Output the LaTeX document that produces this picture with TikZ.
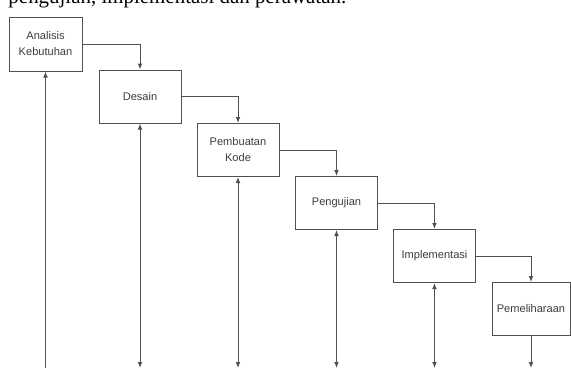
\documentclass[tikz,border=0pt]{standalone}
\usepackage{fontspec}
\setmainfont{Liberation Serif}
\newfontfamily\boxfont{Liberation Sans}
\usetikzlibrary{arrows.meta}
\definecolor{linegrey}{RGB}{80,80,80}
\definecolor{textgrey}{RGB}{60,60,60}

\begin{document}
\begin{tikzpicture}[x=0.75pt,y=-0.75pt,>={Latex[length=4.5pt,width=3.6pt]},
  line width=0.75pt,color=linegrey,
  box node/.style={rectangle,draw=linegrey,fill=white,text=textgrey,
  font=\boxfont\fontsize{8.3}{12}\selectfont,align=center,inner sep=1pt,
  minimum width=61.5pt,minimum height=39.75pt}]

  \clip (0,0) rectangle (571,369);

  % last line of the caption above, cut off by the page
  \node[anchor=base west,inner sep=0,text=black,
    font=\fontsize{15.7}{18}\selectfont] (cap) at (8,3.5)
    {pengujian, implementasi dan perawatan.};

  \node[box node,minimum width=54.75pt,minimum height=40.5pt] (AK)
    at (45.5,44) {Analisis\\Kebutuhan};
  \node[box node] (DS) at (140,96.5) {Desain};
  \node[box node] (PK) at (238,150) {Pembuatan\\Kode};
  \node[box node] (PG) at (336.5,203) {Pengujian};
  \node[box node] (IM) at (434.5,256) {Implementasi};
  \node[box node,minimum width=58.5pt] (PL) at (531,309) {Pemeliharaan};

  \coordinate (bottom) at (0,368);

  \draw[->] (AK) -| (DS);
  \draw[->] (DS) -| (PK);
  \draw[->] (PK) -| (PG);
  \draw[->] (PG) -| (IM);
  \draw[->] (IM) -| (PL);

  % feedback lines running off the bottom of the page
  \draw[<-]  (AK) -- (AK |- bottom);
  \draw[<->] (DS) -- (DS |- bottom);
  \draw[<->] (PK) -- (PK |- bottom);
  \draw[<->] (PG) -- (PG |- bottom);
  \draw[<->] (IM) -- (IM |- bottom);
  \draw[->]  (PL) -- (PL |- bottom);

\end{tikzpicture}
\end{document}
